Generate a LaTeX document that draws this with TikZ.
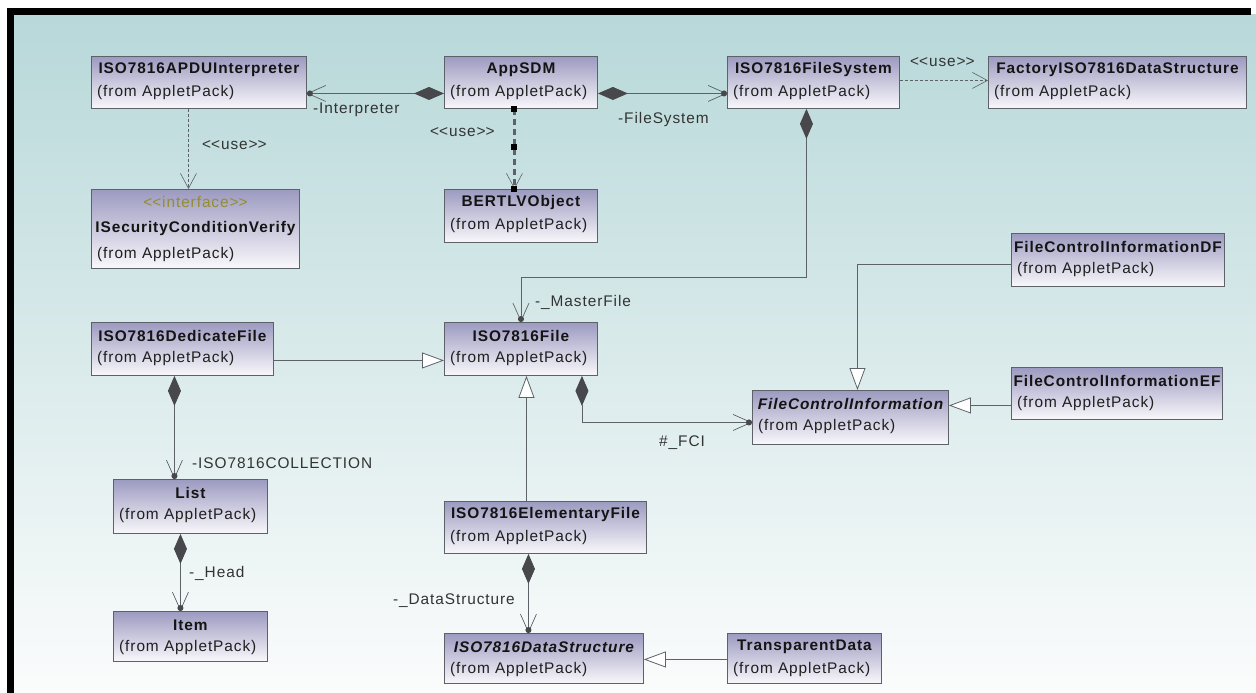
\documentclass[tikz,border=0pt]{standalone}
\usepackage{fontspec}
\setmainfont{Liberation Sans}[LetterSpace=6]
\usetikzlibrary{arrows.meta}

\definecolor{bgtop}{RGB}{184,216,217}
\definecolor{bgbot}{RGB}{251,252,252}
\definecolor{boxtop}{RGB}{156,154,192}
\definecolor{boxbot}{RGB}{249,248,251}
\definecolor{edge}{RGB}{92,98,104}
\definecolor{diam}{RGB}{72,72,76}
\definecolor{stereo}{RGB}{150,140,48}

\tikzset{
  classbox/.style={draw=edge, line width=0.9pt, top color=boxtop, bottom color=boxbot,
    anchor=north west, inner sep=0pt, rectangle},
  ctitle/.style={font=\fontsize{15.4}{18}\selectfont\bfseries, text=black!92, inner sep=0pt},
  cfrom/.style={font=\fontsize{15.4}{18}\selectfont, text=black!88, inner sep=0pt, anchor=west},
  lbl/.style={font=\fontsize{15.4}{18}\selectfont, text=black!80, inner sep=0pt},
  conn/.style={draw=edge, line width=0.9pt},
  comp/.style={conn, {Diamond[length=30pt,width=13pt,fill=diam,color=diam]}-{Straight Barb[length=18pt,width=16pt,line width=0.7pt,sep=-6pt] Circle[length=6pt,fill=diam,color=diam]}},
  gen/.style={conn, -{Triangle[length=22pt,width=16pt,fill=white,line width=0.8pt]}},
  usedep/.style={conn, line width=0.7pt, dash pattern=on 3pt off 2pt,
    -{Straight Barb[length=15pt,width=16pt,line width=0.6pt]}},
  handle/.style={fill=black, draw=none, minimum size=6pt, inner sep=0pt, rectangle},
}

% stereotype brackets, kept apart so they are not joined into guillemets
\newcommand\stlt{<\kern0pt<}
\newcommand\stgt{>\kern0pt>}

% one class: node name, left, top, right, bottom, title
\newcommand\umlclass[6]{%
  \node[classbox, minimum width={#4pt-#2pt}, minimum height={#5pt-#3pt}] (#1) at (#2,#3) {};
  \node[ctitle] (#1-t) at ([yshift=-14pt]#1.north) {#6};
  \node[cfrom] (#1-f) at ([xshift=6pt,yshift=-37pt]#1.north west) {(from AppletPack)};
}

\begin{document}
\begin{tikzpicture}[x=1pt, y=-1pt]
  % canvas and frame
  \useasboundingbox (0,0) rectangle (1256,693);
  \fill[white] (0,0) rectangle (1256,693);
  \shade[top color=bgtop, bottom color=bgbot] (14,15) rectangle (1256,693);
  \fill[black] (7,8) rectangle (1251,15);
  \fill[black] (7,8) rectangle (14,693);

  % classes
  \umlclass{interp}{91}{56}{306}{108}{ISO7816APDUInterpreter}
  \umlclass{appsdm}{444}{56}{597}{108}{AppSDM}
  \umlclass{fsys}{727}{56}{899}{108}{ISO7816FileSystem}
  \umlclass{factory}{988}{56}{1246}{108}{FactoryISO7816DataStructure}
  \umlclass{bertlv}{444}{189}{597}{242}{BERTLVObject}
  \umlclass{fcidf}{1011}{233}{1224}{286}{FileControlInformationDF}
  \umlclass{dedic}{91}{322}{273}{375}{ISO7816DedicateFile}
  \umlclass{isofile}{444}{322}{597}{375}{ISO7816File}
  \umlclass{fci}{752}{390}{948}{444}{\itshape FileControlInformation}
  \umlclass{fcief}{1011}{367}{1222}{419}{FileControlInformationEF}
  \umlclass{list}{113}{479}{267}{533}{List}
  \umlclass{elem}{444}{501}{646}{553}{ISO7816ElementaryFile}
  \umlclass{item}{113}{611}{267}{661}{Item}
  \umlclass{dstruct}{444}{633}{643}{683}{\itshape ISO7816DataStructure}
  \umlclass{transp}{727}{633}{881}{683}{TransparentData}

  % interface class with stereotype
  \node[classbox, minimum width=208pt, minimum height=79pt] (secver) at (91,189) {};
  \node[lbl, text=stereo] (secver-s) at ([yshift=-13pt]secver.north) {\stlt interface\stgt};
  \node[ctitle] (secver-t) at ([yshift=-40pt]secver.north) {ISecurityConditionVerify};
  \node[cfrom] (secver-f) at ([xshift=6pt,yshift=-66pt]secver.north west) {(from AppletPack)};

  % compositions
  \draw[comp] ([yshift=-11pt]appsdm.west) -- ([yshift=-11pt]interp.east);
  \draw[comp] ([yshift=-11pt]appsdm.east) -- ([yshift=-11pt]fsys.west);
  \draw[comp] ([xshift=-7pt]fsys.south) -- ++(0,169) -| (isofile.north);
  \draw[comp] ([xshift=61pt]isofile.south) |- ([yshift=-5pt]fci.west);
  \draw[comp] ([xshift=-8pt]dedic.south) -- ([xshift=-8pt]dedic.south |- list.north);
  \draw[comp] ([xshift=-10pt]list.south) -- ([xshift=-10pt]list.south |- item.north);
  \draw[comp] ([xshift=-17pt]elem.south) -- ([xshift=-17pt]elem.south |- dstruct.north);

  % generalizations
  \draw[gen] ([yshift=-11.5pt]dedic.east) -- ([yshift=-11.5pt]dedic.east -| isofile.west);
  \draw[gen] ([xshift=-19pt]elem.north) -- ([xshift=-19pt]elem.north |- isofile.south);
  \draw[gen] ([yshift=-4.5pt]fcidf.west) -| ([xshift=7pt]fci.north);
  \draw[gen] ([yshift=-12pt]fcief.west) -- ([yshift=-12pt]fcief.west -| fci.east);
  \draw[gen] ([yshift=-1pt]transp.west) -- ([yshift=-1pt]transp.west -| dstruct.east);

  % usage dependencies
  \draw[usedep] ([xshift=-10.5pt]interp.south) -- ([xshift=-10.5pt]interp.south |- secver.north);
  \draw[usedep] ([yshift=2pt]fsys.east) -- ([yshift=2pt]fsys.east -| factory.west);
  \draw[usedep, line width=2.2pt, dash pattern=on 6pt off 4pt]
    ([xshift=-6.5pt]appsdm.south) -- ([xshift=-6.5pt]appsdm.south |- bertlv.north)
    node[handle, pos=0] (h1) {} node[handle, pos=0.48] (h2) {} node[handle, pos=1] (h3) {};

  % role and stereotype labels
  \node[lbl, anchor=west] (l-interp) at (313,110) {-Interpreter};
  \node[lbl, anchor=west] (l-fsys) at (618,120) {-FileSystem};
  \node[lbl, anchor=west] (l-use1) at (202,145) {\stlt use\stgt};
  \node[lbl, anchor=west] (l-use2) at (430,132) {\stlt use\stgt};
  \node[lbl, anchor=west] (l-use3) at (910,62) {\stlt use\stgt};
  \node[lbl, anchor=west] (l-master) at (535,302) {-\_MasterFile};
  \node[lbl, anchor=west] (l-fci) at (659,443) {\#\_FCI};
  \node[lbl, anchor=west] (l-coll) at (192,463) {-ISO7816COLLECTION};
  \node[lbl, anchor=west] (l-head) at (189,573) {-\_Head};
  \node[lbl, anchor=east] (l-data) at (515,601) {-\_DataStructure};
\end{tikzpicture}
\end{document}
